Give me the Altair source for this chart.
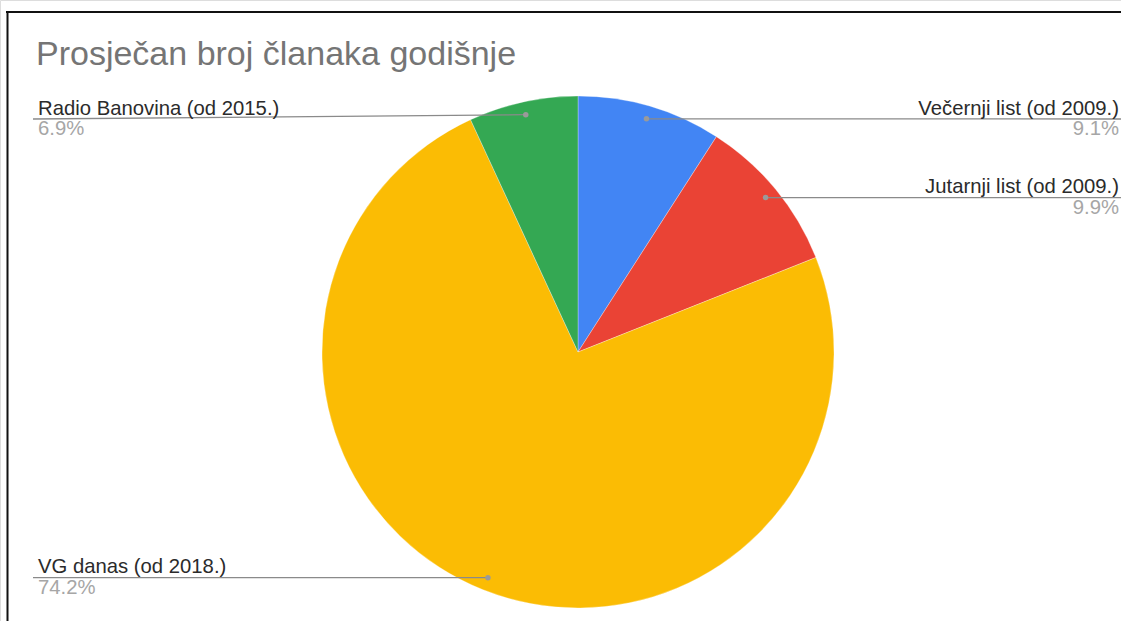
import altair as alt
import pandas as pd

labels = ["Večernji list (od 2009.)", "Jutarnji list (od 2009.)", "VG danas (od 2018.)", "Radio Banovina (od 2015.)"]
shares = [9.1, 9.9, 74.2, 6.9]
colors = ["#4285F4", "#EA4335", "#FBBC04", "#34A853"]
title_text = "Prosječan broj članaka godišnje"

df = pd.DataFrame({"label": labels, "share": shares, "idx": list(range(len(labels)))})

CX, CY, R, RD = 578, 352, 256, 243
FONT = "Liberation Sans"

pie = alt.Chart(df).mark_arc(radius=R, stroke="white", strokeWidth=0.3).encode(
    theta=alt.Theta("share:Q", stack=True),
    color=alt.Color("label:N", scale=alt.Scale(domain=labels, range=colors), legend=None),
    order=alt.Order("idx:Q"),
    x=alt.value(CX),
    y=alt.value(CY),
)

base = alt.Chart(df).transform_joinaggregate(
    total="sum(share)"
).transform_window(
    cum="sum(share)", sort=[alt.SortField("idx")], frame=[None, 0]
).transform_calculate(
    mid="(datum.cum - datum.share/2)/datum.total*2*PI",
).transform_calculate(
    dotx=f"{CX} + {RD}*sin(datum.mid)",
    doty=f"{CY} - {RD}*cos(datum.mid)",
    linex="datum.mid > PI ? 33 : 1121",
    textx="datum.mid > PI ? 38 : 1119",
    pct="format(datum.share, '.1f') + '%'",
).transform_calculate(
    labely="max(datum.doty, 119)",
).transform_calculate(
    namey="datum.labely - 4.5",
    pcty="datum.labely + 16",
)

X = lambda f: alt.X(f, scale=None, axis=None)
Y = lambda f: alt.Y(f, scale=None, axis=None)

lines = base.mark_rule(color="#8a8a8a", strokeWidth=1.3).encode(
    x=X("dotx:Q"), x2="linex:Q", y=Y("doty:Q"), y2="labely:Q"
)
dots = base.mark_circle(color="#9a9a9a", opacity=1, size=30).encode(
    x=X("dotx:Q"), y=Y("doty:Q")
)

def labels_layer(cond, align):
    b = base.transform_filter(cond)
    name = b.mark_text(align=align, baseline="alphabetic", fontSize=20.3, font=FONT, color="#2b2b2b").encode(
        x=X("textx:Q"), y=Y("namey:Q"), text="label:N"
    )
    pct = b.mark_text(align=align, baseline="alphabetic", fontSize=20.3, font=FONT, color="#a6a6a6").encode(
        x=X("textx:Q"), y=Y("pcty:Q"), text="pct:N"
    )
    return name + pct

left_labels = labels_layer("datum.mid > PI", "left")
right_labels = labels_layer("datum.mid <= PI", "right")

frame_data = alt.Data(values=[{"k": 1}])
top_border = alt.Chart(frame_data).mark_rule(color="#111111", strokeWidth=2).encode(
    x=alt.value(6), x2=alt.value(1121), y=alt.value(12)
)
left_border = alt.Chart(frame_data).mark_rule(color="#111111", strokeWidth=2).encode(
    x=alt.value(7.5), y=alt.value(11), y2=alt.value(621)
)

chart = alt.layer(
    pie, lines, dots, left_labels, right_labels, top_border, left_border
).properties(
    width=1121,
    height=621,
    padding=0,
    autosize=alt.AutoSizeParams(type="none"),
    title=alt.TitleParams(
        text=title_text,
        anchor="start",
        frame="group",
        orient="top",
        offset=0,
        baseline="alphabetic",
        dx=36,
        dy=99,
        fontSize=34,
        font=FONT,
        fontWeight="normal",
        color="#757575",
    ),
).configure_view(stroke=None).configure(background="white")

chart.save("out.html", embed_options={"renderer": "svg", "actions": False})
